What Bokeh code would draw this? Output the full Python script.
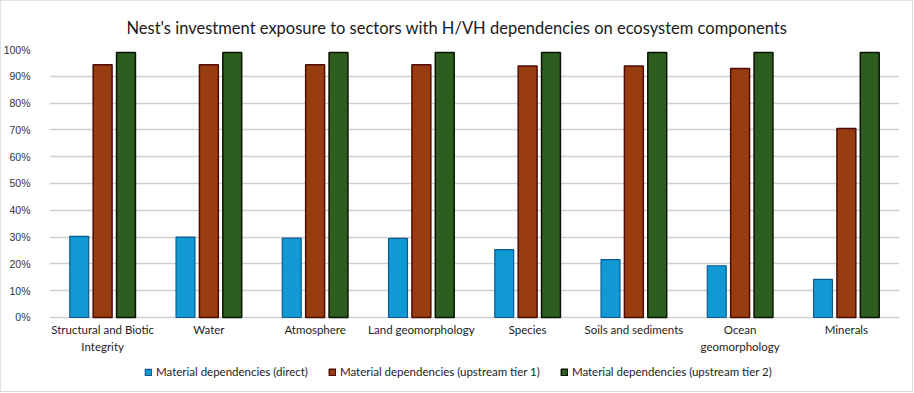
from bokeh.plotting import figure
from bokeh.models import (ColumnDataSource, FactorRange, Range1d, NumeralTickFormatter,
                          FixedTicker, Legend, LegendItem)
from bokeh.core.properties import value
from bokeh.transform import dodge
from bokeh.embed import file_html
from bokeh.resources import INLINE

categories = ["Structural and Biotic Integrity", "Water", "Atmosphere", "Land geomorphology",
              "Species", "Soils and sediments", "Ocean geomorphology", "Minerals"]
direct = [0.303, 0.300, 0.296, 0.295, 0.253, 0.216, 0.193, 0.142]
tier1 = [0.943, 0.943, 0.943, 0.943, 0.938, 0.938, 0.929, 0.705]
tier2 = [0.989, 0.989, 0.989, 0.989, 0.989, 0.989, 0.989, 0.989]
series_names = ["Material dependencies (direct)",
                "Material dependencies (upstream tier 1)",
                "Material dependencies (upstream tier 2)"]
y_ticks = [0, 0.1, 0.2, 0.3, 0.4, 0.5, 0.6, 0.7, 0.8, 0.9, 1.0]
label_overrides = {"Structural and Biotic Integrity": "Structural and Biotic\nIntegrity",
                   "Ocean geomorphology": "Ocean\ngeomorphology"}

labels = [label_overrides.get(c, c) for c in categories]
source = ColumnDataSource(dict(cat=categories, label=labels,
                               direct=direct, tier1=tier1, tier2=tier2))

FONT = "Lato"
FRAME_BOTTOM = -0.2687   # room below 0% for category labels and legend
LABEL_Y = -0.022

p = figure(x_range=FactorRange(factors=categories), y_range=Range1d(FRAME_BOTTOM, 1),
           width=912, height=391, output_backend="svg", toolbar_location=None,
           min_border_left=47, min_border_right=13, min_border_top=49, min_border_bottom=2)
p.styles = {"outline": "2px solid #D9D9D9", "outline-offset": "-1px"}

p.title.text = "Nest's investment exposure to sectors with H/VH dependencies on ecosystem components"
p.title.text_font = FONT
p.title.text_font_size = "16.5px"
p.title.text_font_style = "normal"
p.title.text_color = "#1a1a1a"
p.title.align = "left"
p.title.offset = 77
p.title.standoff = 24

p.outline_line_color = None
p.xgrid.grid_line_color = None
p.ygrid.grid_line_color = "#CFCFCF"
p.ygrid.grid_line_width = 1.5
p.yaxis.ticker = FixedTicker(ticks=y_ticks)
p.ygrid.ticker = FixedTicker(ticks=y_ticks)
p.yaxis.formatter = NumeralTickFormatter(format="0%")
p.yaxis.axis_line_color = None
p.yaxis.major_tick_line_color = None
p.yaxis.minor_tick_line_color = None
p.yaxis.major_label_standoff = 13
p.yaxis.major_label_text_font = "Liberation Sans"
p.yaxis.major_label_text_font_size = "10.5px"
p.yaxis.major_label_text_color = "#333333"
p.xaxis.visible = False

# category labels under the 0% line
p.text(x="cat", y=LABEL_Y, text="label", source=source, text_align="center",
       text_baseline="top", text_font=value(FONT), text_font_size="11.5px",
       text_color="#222222", text_line_height=1.3)

w = 0.178
r1 = p.vbar(x=dodge("cat", -0.22, range=p.x_range), top="direct", width=w, source=source,
            fill_color="#1199D4", line_color="#0B5A8E", line_width=1.2)
r2 = p.vbar(x=dodge("cat", 0.0, range=p.x_range), top="tier1", width=w, source=source,
            fill_color="#983D10", line_color="#4E0C04", line_width=1.5)
r3 = p.vbar(x=dodge("cat", 0.22, range=p.x_range), top="tier2", width=w, source=source,
            fill_color="#2D5E1F", line_color="#0A1405", line_width=1.5)

legend = Legend(items=[LegendItem(label=series_names[0], renderers=[r1]),
                       LegendItem(label=series_names[1], renderers=[r2]),
                       LegendItem(label=series_names[2], renderers=[r3])],
                orientation="horizontal", location=(95, 11),
                glyph_width=8, glyph_height=8, label_standoff=4, spacing=20,
                label_text_font=FONT, label_text_font_size="11.5px", label_text_color="#222222",
                border_line_color=None, background_fill_alpha=0, padding=0, margin=0,
                label_height=12)
p.add_layout(legend, "center")

open("out.html", "w").write(file_html(p, INLINE))
